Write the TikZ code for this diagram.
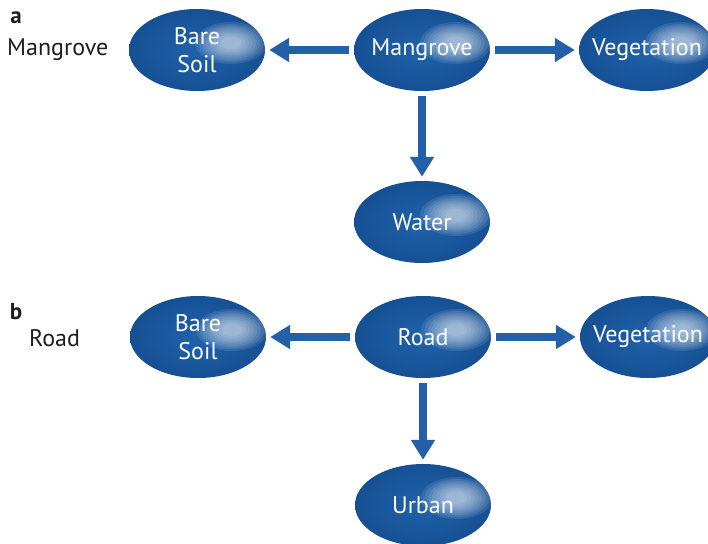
\documentclass[tikz,border=0pt]{standalone}
\usepackage{fontspec}
\setmainfont{PT Sans}
\usetikzlibrary{shapes.geometric,arrows.meta}
\definecolor{coverblue}{RGB}{32,98,170}
\definecolor{coverdark}{RGB}{22,80,148}
\definecolor{arrowblue}{RGB}{36,96,168}
\definecolor{labelgray}{RGB}{30,30,30}

\begin{document}
\begin{tikzpicture}[x=1pt,y=-1pt,node distance=225pt]
\tikzstyle{cover}=[ellipse, minimum width=136pt, minimum height=82pt, inner xsep=-22pt, inner ysep=0pt,
  text=white, font=\fontsize{24}{28}\selectfont, align=center,
  shading=radial, inner color=coverblue, outer color=coverdark,
  path picture={\foreach \s in {1.0,0.9,...,0.2}
    \fill[white, opacity=0.1] ([shift={(34pt,7pt)}]path picture bounding box.center) ellipse ({\s*36pt} and {\s*21pt});}]
\tikzstyle{link}=[draw=arrowblue, line width=8pt, -{Triangle[length=20pt,width=23pt]}, shorten <=5pt, shorten >=4pt]
\tikzstyle{side}=[text=labelgray, font=\fontsize{24}{27}\selectfont, inner sep=0pt]
\useasboundingbox (0,0) rectangle (708,543);

\node[side, font=\fontsize{23}{27}\selectfont\bfseries] (tagA) at (16,18) {a};
\node[side, anchor=west] (nameA) at (7,50) {Mangrove};
\node[cover] (mangrove) at (422,50) {Mangrove};
\node[cover] (soilA) [left of=mangrove] {Bare\\Soil};
\node[cover] (vegA) [right of=mangrove] {Vegetation};
\node[cover] (water) [below of=mangrove, node distance=172pt] {Water};

\draw[link] (mangrove) -- (soilA);
\draw[link] (mangrove) -- (vegA);
\draw[link] (mangrove) -- (water);

\node[side, font=\fontsize{23}{27}\selectfont\bfseries] (tagB) at (16,312) {b};
\node[side, anchor=west] (nameB) at (29,338) {Road};
\node[cover] (road) at (423,337) {Road};
\node[cover] (soilB) [left of=road] {Bare\\Soil};
\node[cover] (vegB) [right of=road] {Vegetation};
\node[cover] (urban) [below of=road, node distance=168pt] {Urban};

\draw[link] (road) -- (soilB);
\draw[link] (road) -- (vegB);
\draw[link] (road) -- (urban);
\end{tikzpicture}
\end{document}
